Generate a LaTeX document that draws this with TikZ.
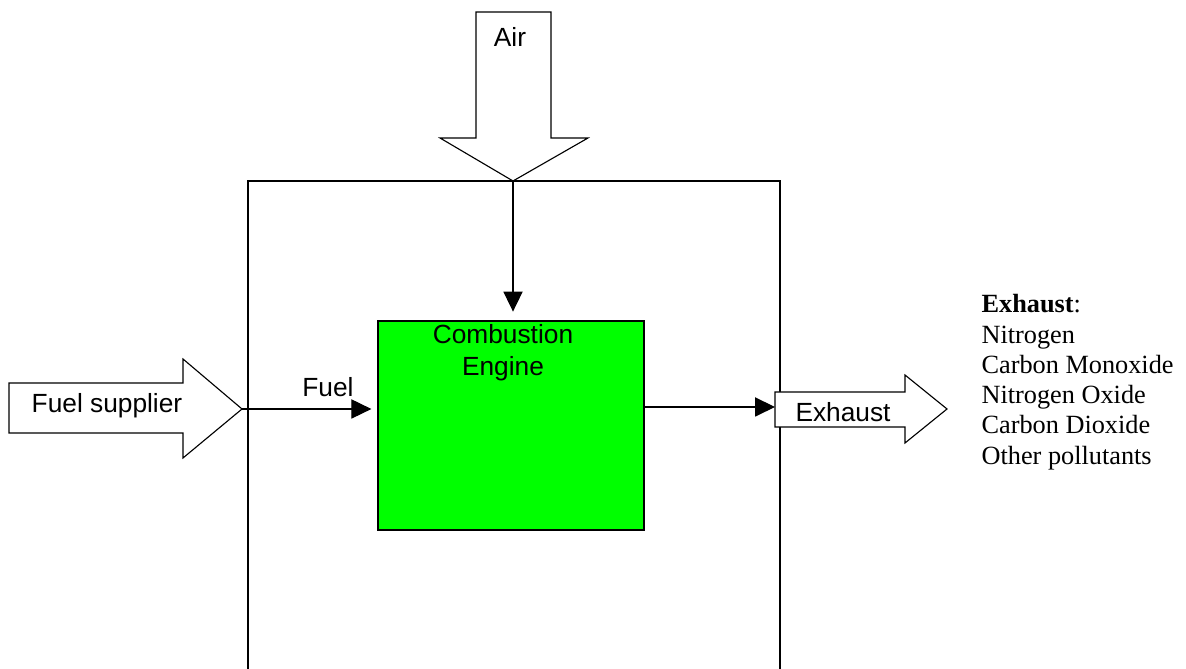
\documentclass[tikz,border=0pt]{standalone}
\usepackage{fontspec}
\setmainfont{Liberation Serif}
\setsansfont{Liberation Sans}
\usepackage{xcolor}
\definecolor{enginegreen}{RGB}{0,255,0}
\usepackage{tikz}
\usetikzlibrary{arrows.meta,positioning}

\begin{document}
\begin{tikzpicture}[
  line width=0.8pt,
  blk/.style={draw=black,fill=white,line width=0.8pt},
  lbl/.style={font=\sffamily\fontsize{18.7}{22.7}\selectfont,inner sep=0pt},
  lst/.style={font=\fontsize{18.7}{21.5}\selectfont,align=left,inner sep=0pt},
  flow/.style={-{Triangle[length=0.5cm,width=0.48cm]}},
]
  \useasboundingbox (0,0) rectangle (29.65,16.725);
  % open frame round the engine
  \draw (6.20,0) -- (6.20,12.20) -- (19.50,12.20) -- (19.50,0);
  \node[draw,fill=enginegreen,line width=2pt,inner sep=0pt,
        minimum width=6.65cm,minimum height=5.225cm] (engine) at (12.775,6.0875) {};
  \node[lbl,align=center,anchor=north] (engtxt) at (12.575,8.62) {Combustion\\Engine};
  % air in
  \draw[blk] (11.90,16.425) -- (13.775,16.425) -- (13.775,13.275) -- (14.70,13.275)
    -- (12.825,12.20) coordinate (airtip) -- (11.00,13.275) -- (11.90,13.275) -- cycle;
  \node[lbl,anchor=base] (air) at (12.75,15.55) {Air};
  \draw[flow,shorten >=0.2cm] (airtip) -- (airtip |- engine.north);
  % fuel in
  \draw[blk] (0.225,7.15) -- (4.575,7.15) -- (4.575,7.75) -- (6.05,6.50) coordinate (fueltip)
    -- (4.575,5.275) -- (4.575,5.90) -- (0.225,5.90) -- cycle;
  \node[lbl,anchor=base] (fuelsup) at (2.675,6.40) {Fuel supplier};
  \node[lbl,anchor=base] (fuel) at (8.20,6.80) {Fuel};
  \draw[flow,shorten >=0.13cm] (fueltip) -- (fueltip -| engine.west);
  % exhaust out
  \draw[blk] (19.375,6.925) -- (22.625,6.925) -- (22.625,7.35) -- (23.675,6.50)
    -- (22.625,5.65) -- (22.625,6.05) -- (19.375,6.05) -- cycle;
  \coordinate (extail) at (19.375,6.55);
  \node[lbl,anchor=base] (exh) at (21.075,6.175) {Exhaust};
  \draw[flow] (engine.east |- extail) -- (extail);
  \node[lst,anchor=north west] (complist) at (24.525,9.37)
    {\textbf{Exhaust}:\\Nitrogen\\Carbon Monoxide\\Nitrogen Oxide\\Carbon Dioxide\\Other pollutants};
\end{tikzpicture}
\end{document}
